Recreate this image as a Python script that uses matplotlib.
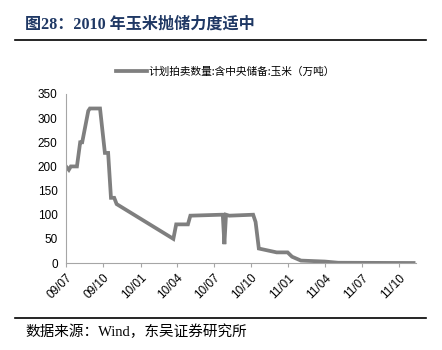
import matplotlib
matplotlib.use('Agg')
import matplotlib.pyplot as plt
import matplotlib.dates as mdates
import pandas as pd
from matplotlib.lines import Line2D

# 计划拍卖数量:含中央储备:玉米（万吨）
dates = ['2009-07-01', '2009-07-08', '2009-07-13', '2009-07-28', '2009-08-05',
         '2009-08-10', '2009-08-25', '2009-08-29', '2009-09-23', '2009-10-05',
         '2009-10-13', '2009-10-20', '2009-10-28', '2009-11-03', '2010-03-23',
         '2010-03-30', '2010-04-28', '2010-05-04', '2010-07-20', '2010-07-23',
         '2010-07-27', '2010-07-31', '2010-08-08', '2010-10-06', '2010-10-12',
         '2010-10-20', '2010-10-31', '2010-12-03', '2010-12-30', '2011-01-10',
         '2011-02-01', '2011-04-01', '2011-05-04', '2011-11-06']
values = [200, 193, 200, 200, 250, 250, 315, 320, 320, 228,
          228, 135, 135, 122, 50, 80, 80, 98, 100, 100,
          39, 100, 98, 100, 85, 30, 28, 22, 22, 13,
          5, 3, 0.5, 0]

title = '图28：2010 年玉米抛储力度适中'
legend_label = '计划拍卖数量:含中央储备:玉米（万吨）'
source = '数据来源：Wind，东吴证券研究所'

x = pd.to_datetime(dates)

fig = plt.figure(figsize=(4.42, 3.5), dpi=100)
ax = fig.add_axes([66 / 442, 1 - 263 / 350, (416 - 66) / 442, (263 - 94) / 350])

ax.plot(x, values, color='#7f7f7f', linewidth=2.7, solid_joinstyle='miter')

ax.set_xlim(pd.Timestamp('2009-07-01'), pd.Timestamp('2011-11-12'))
ax.set_ylim(0, 350)
ax.set_yticks(range(0, 351, 50))
ax.xaxis.set_major_locator(mdates.MonthLocator(bymonth=[1, 4, 7, 10]))
ax.xaxis.set_major_formatter(mdates.DateFormatter('%y/%m'))

for s in ['top', 'right']:
    ax.spines[s].set_visible(False)
for s in ['left', 'bottom']:
    ax.spines[s].set_color('#a6a6a6')
    ax.spines[s].set_linewidth(0.8)
ax.tick_params(axis='both', colors='#a6a6a6', length=3, width=0.8,
               labelcolor='black', labelsize=8.5)
ax.tick_params(axis='y', length=0, pad=6)
for lab in ax.get_yticklabels() + ax.get_xticklabels():
    lab.set_fontfamily('Liberation Sans')
plt.setp(ax.get_xticklabels(), rotation=45, ha='right', rotation_mode='anchor')

# 图例
handle = Line2D([], [], color='#7f7f7f', linewidth=2.7)
fig.legend([handle], [legend_label], loc='center', bbox_to_anchor=(0.51, 1 - 72 / 350),
           frameon=False, handlelength=2.9, handletextpad=0.2,
           prop={'family': 'Noto Sans CJK SC', 'size': 7.7})

# 标题与分隔线
fig.text(25 / 442, 1 - 25 / 350, title, fontsize=11.6, fontweight='bold',
         color='#1f3864', va='center', ha='left',
         family=['Liberation Serif', 'Noto Sans CJK SC'])
fig.add_artist(Line2D([15 / 442, 426 / 442], [1 - 40 / 350, 1 - 40 / 350],
                      color='black', linewidth=1.2))
fig.add_artist(Line2D([15 / 442, 426 / 442], [1 - 318 / 350, 1 - 318 / 350],
                      color='black', linewidth=1.2))
fig.text(25 / 442, 1 - 332 / 350, source, fontsize=10.5, color='black',
         va='center', ha='left', family=['Liberation Serif', 'Noto Sans CJK SC'])

fig.savefig('out.png', dpi=100)
